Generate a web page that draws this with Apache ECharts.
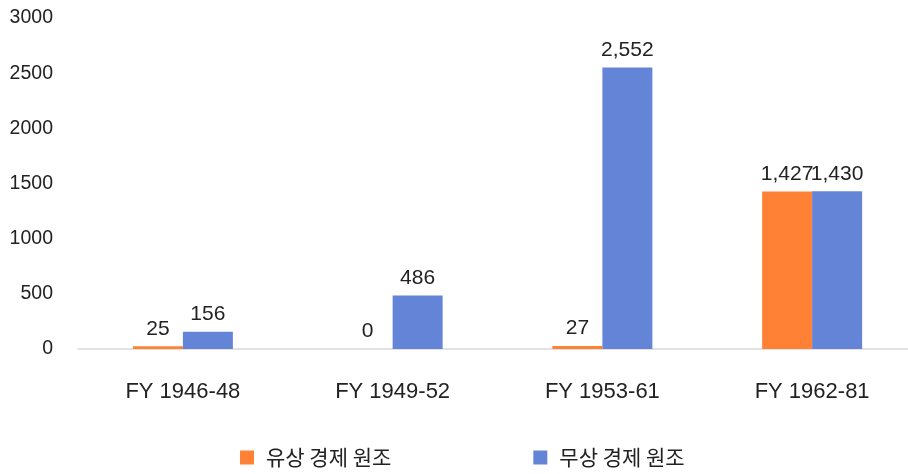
<!DOCTYPE html>
<html><head><meta charset="utf-8">
<script src="https://cdn.jsdelivr.net/npm/echarts@6/dist/echarts.min.js"></script>
<style>html,body{margin:0;padding:0;background:#fff}#c{width:908px;height:474px}</style>
</head><body><div id="c"></div>
<script>
const categories = ['FY 1946-48', 'FY 1949-52', 'FY 1953-61', 'FY 1962-81'];
const loanAid = [25, 0, 27, 1427];
const grantAid = [156, 486, 2552, 1430];
const seriesNames = ['유상 경제 원조', '무상 경제 원조'];
const yTicks = [0, 500, 1000, 1500, 2000, 2500, 3000];

const font = "'Liberation Sans', 'Noto Sans CJK KR', sans-serif";
const chart = echarts.init(document.getElementById('c'));
const lbl = {
  show: true, position: 'top', distance: 7, color: '#222', fontSize: 21, fontFamily: font,
  formatter: p => p.value.toLocaleString('en-US')
};
chart.setOption({
  animation: false,
  textStyle: { fontFamily: font },
  grid: { left: 78, width: 839, top: 18, bottom: 125, containLabel: false, outerBoundsMode: 'none' },
  legend: {
    top: 447, left: 240, padding: 0, itemWidth: 14, itemHeight: 14, itemGap: 142, icon: 'rect',
    textStyle: { fontSize: 21, color: '#222', fontFamily: "'Noto Sans CJK KR', sans-serif", padding: [0, 0, 0, 7] },
    data: seriesNames
  },
  xAxis: {
    type: 'category', data: categories,
    axisLine: { lineStyle: { color: '#d9d9d9', width: 1.5 } },
    axisTick: { show: false },
    axisLabel: { color: '#222', fontSize: 22, margin: 32, fontFamily: font }
  },
  yAxis: {
    type: 'value', min: yTicks[0], max: yTicks[yTicks.length - 1], interval: 500,
    splitLine: { show: false }, axisLine: { show: false }, axisTick: { show: false },
    axisLabel: { color: '#222', fontSize: 19.5, margin: 25, fontFamily: font, formatter: v => String(v) }
  },
  series: [
    { name: seriesNames[0], type: 'bar', data: loanAid, barWidth: 50, barGap: '0%',
      itemStyle: { color: '#FF8136' }, label: lbl },
    { name: seriesNames[1], type: 'bar', data: grantAid, barWidth: 50, barGap: '0%',
      itemStyle: { color: '#6484D8' }, label: lbl }
  ]
});
</script></body></html>
